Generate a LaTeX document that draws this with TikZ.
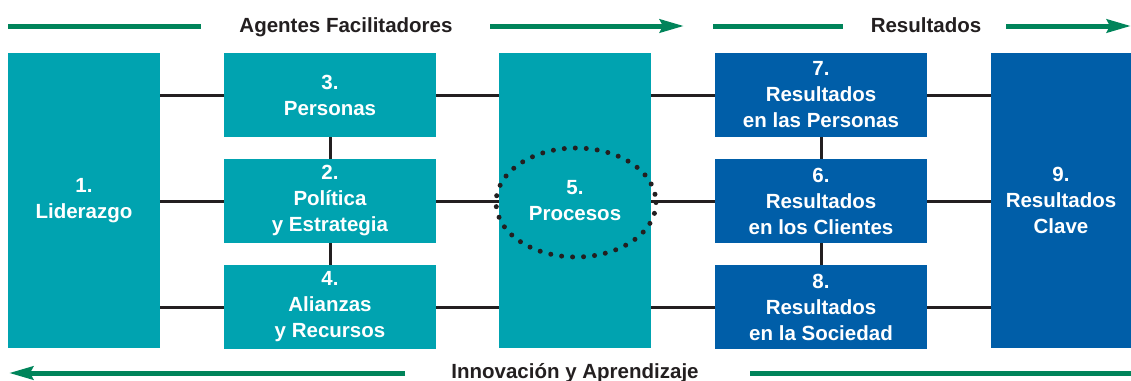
\documentclass[tikz,border=0pt]{standalone}
\usepackage{fontspec}
\setmainfont{Liberation Sans}
\usepackage{tikz}
\usetikzlibrary{arrows.meta,calc}

\definecolor{agente}{RGB}{0,163,176}
\definecolor{resultado}{RGB}{0,94,168}
\definecolor{flecha}{RGB}{0,132,90}
\definecolor{texto}{RGB}{35,31,32}

\tikzset{
  caja/.style={inner sep=0pt, align=center, text=white, font=\bfseries\fontsize{20.5}{26}\selectfont},
  cajaagente/.style={caja, fill=agente},
  cajaresultado/.style={caja, fill=resultado},
  enlace/.style={draw=texto, line width=3pt},
  flujo/.style={draw=flecha, line width=5pt},
  punta/.style={-{Stealth[length=24pt,width=13pt,inset=3pt]}},
  titulo/.style={text=texto, inner sep=0pt, font=\bfseries\fontsize{20.5}{26}\selectfont},
  puntos/.style={draw=texto, line width=5pt, line cap=round, dash pattern=on 0pt off 11pt}
}

\begin{document}
\begin{tikzpicture}[x=1pt, y=-1pt]
\useasboundingbox (0,0) rectangle (1131,380);

\node [cajaagente, minimum width=152pt, minimum height=295pt] (lid) at (84,200.5) {1.\\Liderazgo};
\node [cajaagente, minimum width=212pt, minimum height=84pt] (per) at (330,95) {3.\\Personas};
\node [cajaagente, minimum width=212pt, minimum height=84pt] (pol) at (330,201) {2.\\Política\\y Estrategia};
\node [cajaagente, minimum width=212pt, minimum height=84pt] (ali) at (330,307) {4.\\Alianzas\\y Recursos};
\node [cajaagente, minimum width=152pt, minimum height=295pt] (pro) at (575,200.5) {5.\\Procesos};
\node [cajaresultado, minimum width=212pt, minimum height=84pt] (rpe) at (821,95) {7.\\Resultados\\en las Personas};
\node [cajaresultado, minimum width=212pt, minimum height=84pt] (rcl) at (821,201) {6.\\Resultados\\en los Clientes};
\node [cajaresultado, minimum width=212pt, minimum height=84pt] (rso) at (821,307) {8.\\Resultados\\en la Sociedad};
\node [cajaresultado, minimum width=140pt, minimum height=295pt] (rcv) at (1061,200.5) {9.\\Resultados\\Clave};

\draw [enlace] (lid.east |- per.west) -- (per.west);
\draw [enlace] (per.east) -- (pro.west |- per.east);
\draw [enlace] (pro.east |- rpe.west) -- (rpe.west);
\draw [enlace] (rpe.east) -- (rcv.west |- rpe.east);

\draw [enlace] (lid.east |- pol.west) -- (pol.west);
\draw [enlace] (pol.east) -- (pro.west |- pol.east);
\draw [enlace] (pro.east |- rcl.west) -- (rcl.west);
\draw [enlace] (rcl.east) -- (rcv.west |- rcl.east);

\draw [enlace] (lid.east |- ali.west) -- (ali.west);
\draw [enlace] (ali.east) -- (pro.west |- ali.east);
\draw [enlace] (pro.east |- rso.west) -- (rso.west);
\draw [enlace] (rso.east) -- (rcv.west |- rso.east);

\draw [enlace] (per.south) -- (pol.north);
\draw [enlace] (pol.south) -- (ali.north);
\draw [enlace] (rpe.south) -- (rcl.north);
\draw [enlace] (rcl.south) -- (rso.north);

\draw [puntos] ($(pro.center)+(1,2)$) ellipse [x radius=80, y radius=54.5];

\node [titulo, anchor=base] (agentes) at (346,32) {Agentes Facilitadores};
\node [titulo, anchor=base] (resul) at (926,32) {Resultados};
\node [titulo, anchor=base] (innov) at (575,378) {Innovación y Aprendizaje};

\coordinate (a0) at (8,26);
\coordinate (a1) at (201,26);
\coordinate (a2) at (490,26);
\coordinate (a3) at (684,26);
\coordinate (r0) at (713,26);
\coordinate (r1) at (843,26);
\coordinate (r2) at (1006,26);
\coordinate (r3) at (1131,26);
\coordinate (i0) at (1131,373);
\coordinate (i1) at (750,373);
\coordinate (i2) at (405,373);
\coordinate (i3) at (9,373);

\draw [flujo] (a0) -- (a1);
\draw [flujo, punta] (a2) -- (a3);
\draw [flujo] (r0) -- (r1);
\draw [flujo, punta] (r2) -- (r3);
\draw [flujo] (i0) -- (i1);
\draw [flujo, punta] (i2) -- (i3);

\end{tikzpicture}
\end{document}
